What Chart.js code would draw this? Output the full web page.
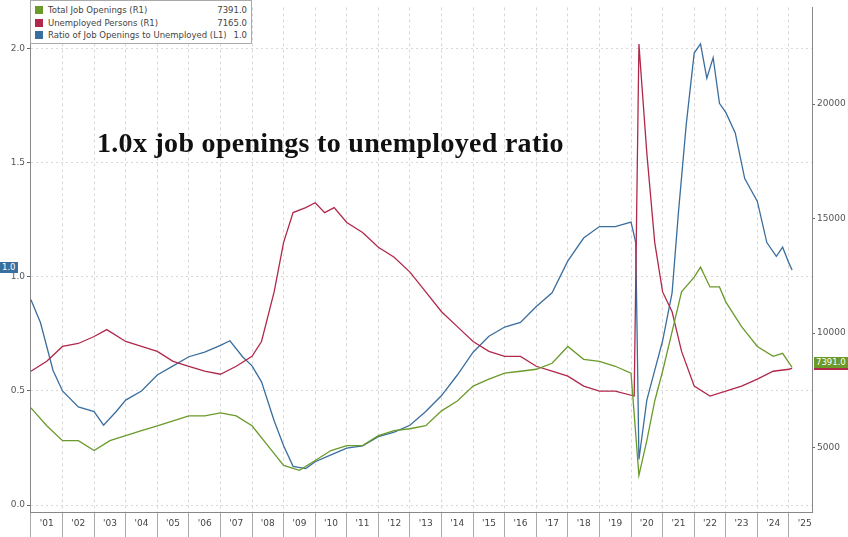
<!DOCTYPE html>
<html><head><meta charset="utf-8">
<script src="https://cdn.jsdelivr.net/npm/chart.js@4"></script>
<style>
body{margin:0;background:#fff;width:848px;height:537px;overflow:hidden;position:relative;font-family:"DejaVu Sans",sans-serif}
#legend{position:absolute;left:30px;top:0;width:222px;height:44px;border:1px solid #aaa;background:#fff;font-size:8.5px;color:#444;box-sizing:border-box;padding:3px 4px}
#legend div{height:12.5px;line-height:12.5px;position:relative}
#legend i{display:inline-block;width:8px;height:8px;margin-right:5px;vertical-align:-1px}
#legend span{position:absolute;right:0}
#title{position:absolute;left:97px;top:127px;font-family:"Liberation Serif",serif;font-weight:bold;font-size:28px;letter-spacing:0.3px;color:#111}
.tag{position:absolute;font-size:8.5px;color:#fff;padding:0 2px;line-height:11px}
</style></head><body>
<canvas id="c" width="848" height="537"></canvas>
<div id="legend">
<div><i style="background:#6a9a2a"></i>Total Job Openings (R1)<span>7391.0</span></div>
<div><i style="background:#b0284a"></i>Unemployed Persons (R1)<span>7165.0</span></div>
<div><i style="background:#3a6e9e"></i>Ratio of Job Openings to Unemployed (L1)<span>1.0</span></div>
</div>
<div id="title">1.0x job openings to unemployed ratio</div>
<div class="tag" style="left:0;top:262px;background:#3a6e9e">1.0</div>
<div class="tag" style="left:814px;top:357px;background:#6a9a2a;border-bottom:2px solid #b0284a">7391.0</div>
<script>
const yearLabels=["'01","'02","'03","'04","'05","'06","'07","'08","'09","'10","'11","'12","'13","'14","'15","'16","'17","'18","'19","'20","'21","'22","'23","'24","'25"];
const ratioX=[2001.0,2001.3,2001.7,2002.0,2002.5,2003.0,2003.3,2003.7,2004.0,2004.5,2005.0,2005.5,2006.0,2006.5,2007.0,2007.3,2007.7,2008.0,2008.3,2008.7,2009.0,2009.3,2009.7,2010.0,2010.5,2011.0,2011.5,2012.0,2012.5,2013.0,2013.5,2014.0,2014.5,2015.0,2015.5,2016.0,2016.5,2017.0,2017.5,2018.0,2018.5,2019.0,2019.5,2020.0,2020.15,2020.25,2020.5,2020.75,2021.0,2021.3,2021.5,2021.75,2022.0,2022.2,2022.4,2022.6,2022.8,2023.0,2023.3,2023.6,2024.0,2024.3,2024.6,2024.8,2025.0,2025.1];
const ratioY=[0.90,0.80,0.59,0.50,0.43,0.41,0.35,0.41,0.46,0.50,0.57,0.61,0.65,0.67,0.70,0.72,0.65,0.61,0.54,0.37,0.26,0.17,0.16,0.19,0.22,0.25,0.26,0.30,0.32,0.35,0.41,0.48,0.57,0.67,0.74,0.78,0.80,0.87,0.93,1.07,1.17,1.22,1.22,1.24,1.15,0.20,0.46,0.59,0.72,0.93,1.28,1.67,1.98,2.02,1.87,1.96,1.76,1.72,1.63,1.43,1.33,1.15,1.09,1.13,1.06,1.03];
const unempX=[2001.0,2001.5,2002.0,2002.5,2003.0,2003.4,2004.0,2004.5,2005.0,2005.5,2006.0,2006.5,2007.0,2007.5,2008.0,2008.3,2008.7,2009.0,2009.3,2009.7,2010.0,2010.3,2010.6,2011.0,2011.5,2012.0,2012.5,2013.0,2013.5,2014.0,2014.5,2015.0,2015.5,2016.0,2016.5,2017.0,2017.5,2018.0,2018.5,2019.0,2019.5,2020.1,2020.25,2020.5,2020.75,2021.0,2021.3,2021.6,2022.0,2022.5,2023.0,2023.5,2024.0,2024.5,2025.0,2025.1];
const unempY=[8333,8766,9416,9545,9848,10152,9632,9416,9199,8766,8550,8333,8203,8550,8983,9632,11797,13961,15260,15476,15693,15260,15476,14827,14394,13744,13311,12662,11797,10931,10281,9632,9199,8983,8983,8550,8333,8117,7684,7468,7468,7251,22619,17857,13961,11797,10931,9199,7684,7251,7468,7684,7987,8333,8420,8463];
const openX=[2001.0,2001.5,2002.0,2002.5,2003.0,2003.5,2004.0,2004.5,2005.0,2005.5,2006.0,2006.5,2007.0,2007.5,2008.0,2008.5,2009.0,2009.5,2010.0,2010.5,2011.0,2011.5,2012.0,2012.5,2013.0,2013.5,2014.0,2014.5,2015.0,2015.5,2016.0,2016.5,2017.0,2017.5,2018.0,2018.5,2019.0,2019.5,2020.0,2020.25,2020.5,2020.75,2021.0,2021.3,2021.6,2022.0,2022.2,2022.5,2022.8,2023.0,2023.5,2024.0,2024.5,2024.8,2025.1];
const openY=[6732,5952,5303,5303,4870,5303,5519,5736,5952,6169,6385,6385,6515,6385,5952,5087,4221,4004,4437,4870,5087,5087,5519,5736,5822,5952,6602,7035,7684,7987,8247,8333,8420,8680,9416,8853,8766,8550,8247,3788,5303,7035,8333,10065,11797,12446,12879,12013,12013,11364,10281,9416,8983,9113,8506];
const leftTicks=[0,0.5,1,1.5,2];
const rightTicks=[5000,10000,15000,20000];

const pts=(xs,ys)=>xs.map((x,i)=>({x:x,y:ys[i]}));
const xt=[];for(let y=2001;y<=2025;y++){xt.push(y);xt.push(y+0.5);}
new Chart(document.getElementById('c'),{
 type:'line',
 data:{datasets:[
  {data:pts(openX,openY),yAxisID:'yR',borderColor:'#6a9a2a',borderWidth:1.3,pointRadius:0},
  {data:pts(unempX,unempY),yAxisID:'yR',borderColor:'#b0284a',borderWidth:1.3,pointRadius:0},
  {data:pts(ratioX,ratioY),yAxisID:'yL',borderColor:'#3a6e9e',borderWidth:1.3,pointRadius:0}
 ]},
 options:{responsive:false,animation:false,layout:{padding:{top:3,right:0,left:0,bottom:0}},
  plugins:{legend:{display:false},tooltip:{enabled:false}},
  scales:{
   x:{type:'linear',min:2000.97,max:2025.73,
    afterBuildTicks:a=>{a.ticks=xt.map(v=>({value:v}));},
    afterFit:a=>{a.height=25;},
    border:{color:'#888',dash:[3,3]},
    grid:{color:c=>(c.tick&&c.tick.value%1===0)?'#d8d8d8':'rgba(0,0,0,0)',tickLength:25,
      tickColor:c=>(c.tick&&c.tick.value%1===0)?'#aaa':'rgba(0,0,0,0)',tickBorderDash:[0,0]},
    ticks:{autoSkip:false,maxRotation:0,padding:-19,color:'#444',font:{size:9,family:'DejaVu Sans'},
      callback:v=>(v%1===0.5)?yearLabels[Math.floor(v)-2001]:''}},
   yL:{position:'left',min:-0.03,max:2.18,
    afterBuildTicks:a=>{a.ticks=leftTicks.map(v=>({value:v}));},
    afterFit:a=>{a.width=30;},
    border:{color:'#888',dash:[2,3]},
    grid:{color:'#d8d8d8',tickLength:3,tickColor:'#666',tickBorderDash:[0,0]},
    ticks:{padding:2,color:'#555',font:{size:9,family:'DejaVu Sans'},callback:v=>v.toFixed(1)}},
   yR:{position:'right',min:2186,max:24221,
    afterBuildTicks:a=>{a.ticks=rightTicks.map(v=>({value:v}));},
    afterFit:a=>{a.width=36;},
    border:{color:'#888'},
    grid:{drawOnChartArea:false,tickLength:3,tickColor:'#666'},
    ticks:{padding:2,color:'#555',font:{size:9,family:'DejaVu Sans'},callback:v=>String(v)}}
  }}
});
</script></body></html>
